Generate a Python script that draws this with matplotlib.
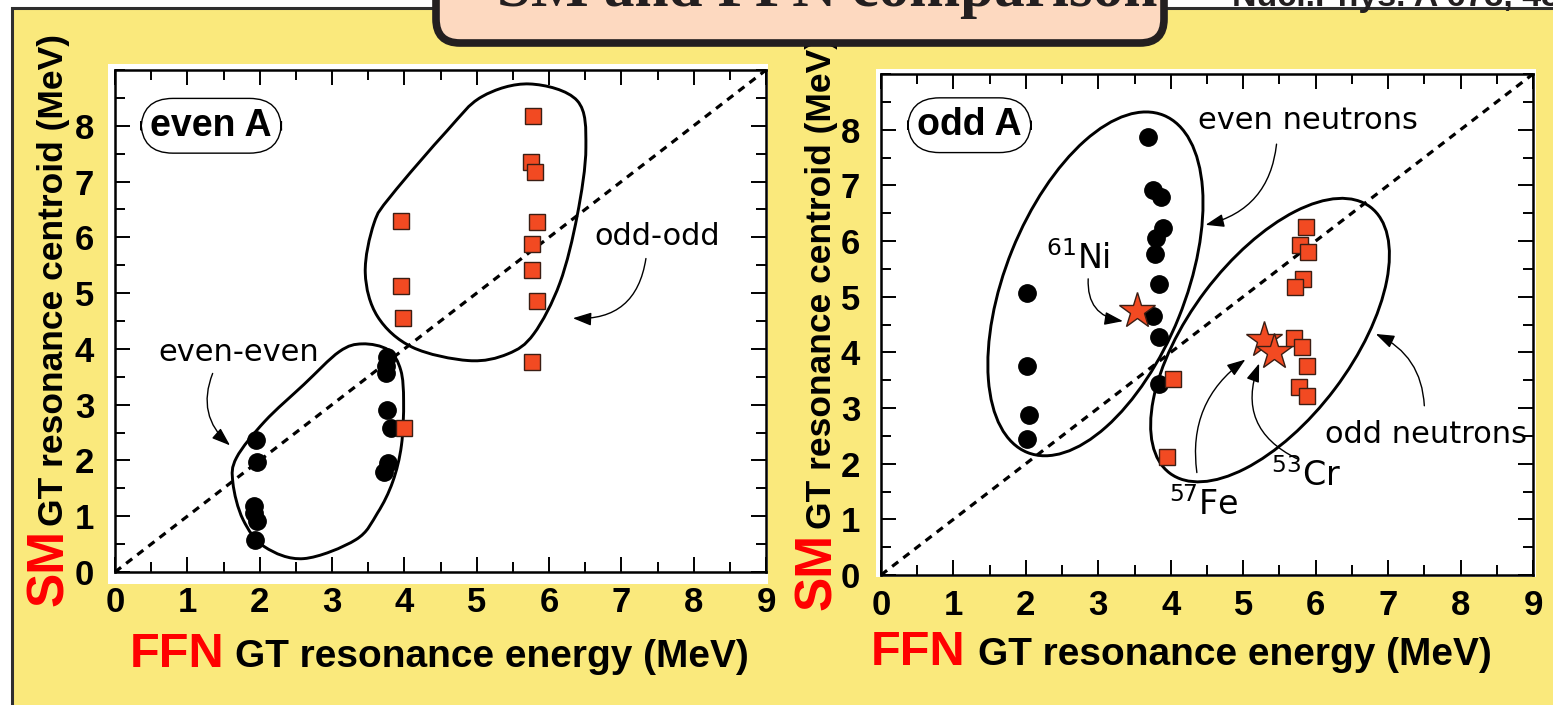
import numpy as np
import matplotlib
matplotlib.use("Agg")
import matplotlib.pyplot as plt
from matplotlib.patches import Rectangle, FancyBboxPatch, Ellipse, PathPatch
from matplotlib.path import Path
from matplotlib.transforms import Affine2D
from matplotlib.ticker import MultipleLocator

plt.rcParams["font.family"] = ["Liberation Sans", "DejaVu Sans"]
plt.rcParams["mathtext.fontset"] = "dejavusans"

# ---------------------------------------------------------------- data
# even A nuclei: FFN energy (x) vs shell-model centroid (y), MeV
even_even_x = [1.95, 1.96, 1.92, 1.92, 1.96, 1.94, 3.76, 3.75, 3.74, 3.76, 3.81, 3.78, 3.72]
even_even_y = [2.37, 1.97, 1.19, 1.06, 0.91, 0.58, 3.86, 3.70, 3.56, 2.91, 2.58, 1.95, 1.79]
odd_odd_x = [5.78, 5.75, 5.81, 3.95, 5.84, 5.77, 5.77, 3.95, 5.84, 3.98, 5.77, 4.00]
odd_odd_y = [8.17, 7.35, 7.18, 6.29, 6.27, 5.88, 5.41, 5.12, 4.86, 4.55, 3.76, 2.58]

# odd A nuclei
even_n_x = [3.69, 3.75, 3.87, 3.89, 3.80, 3.78, 3.84, 3.75, 3.84, 3.84, 2.01, 2.01, 2.04, 2.01]
even_n_y = [7.86, 6.91, 6.79, 6.23, 6.06, 5.77, 5.23, 4.65, 4.28, 3.44, 5.07, 3.75, 2.88, 2.45]
odd_n_x = [5.86, 5.78, 5.89, 5.83, 5.72, 5.70, 5.81, 5.88, 5.77, 5.88, 4.03, 3.95]
odd_n_y = [6.25, 5.93, 5.80, 5.32, 5.17, 4.25, 4.09, 3.75, 3.37, 3.22, 3.52, 2.12]

# highlighted nuclei (stars)
star_names = [r"$^{61}$Ni", r"$^{57}$Fe", r"$^{53}$Cr"]
star_x = [3.53, 5.28, 5.43]
star_y = [4.74, 4.23, 4.01]

x_ticks = list(range(0, 10))
y_ticks = list(range(0, 9))

# ---------------------------------------------------------------- style
W, H = 1553, 705
YELLOW = "#FAE97C"
PEACH = "#FDD9C0"
SQ_RED = "#F24A22"
EDGE_DARK = "#3B1E14"
INK = "#231F20"
HAND = "DejaVu Sans"

fig = plt.figure(figsize=(W / 100, H / 100), dpi=100)
fig.patch.set_facecolor("white")


def frac(x0, y_top, x1, y_bot):
    return [x0 / W, 1 - y_bot / H, (x1 - x0) / W, (y_bot - y_top) / H]


# background canvas in pixel units (origin top-left)
bg = fig.add_axes([0, 0, 1, 1], zorder=-1)
bg.set_xlim(0, W)
bg.set_ylim(H, 0)
bg.axis("off")
bg.add_patch(Rectangle((11.5, 8.0), W + 40, H + 40, fc=YELLOW, ec="#2E2E2E", lw=2.2))
bg.add_patch(Rectangle((108, 64), 660, 520, fc="white", ec="none"))
bg.add_patch(Rectangle((876, 69), 660, 508, fc="white", ec="none"))
bg.text(1232, 6, "Nucl.Phys. A 673, 481 (2000)", fontsize=24.5, fontweight="bold",
        color=INK, ha="left", va="baseline")

axL = fig.add_axes(frac(115, 70, 766, 572))
axR = fig.add_axes(frac(881, 74, 1533, 575))


def style_axes(ax):
    ax.set_xlim(0, 9)
    ax.set_ylim(0, 9)
    ax.set_facecolor("white")
    for sp in ax.spines.values():
        sp.set_linewidth(1.8)
        sp.set_color("black")
    ax.xaxis.set_major_locator(MultipleLocator(1))
    ax.xaxis.set_minor_locator(MultipleLocator(0.5))
    ax.yaxis.set_minor_locator(MultipleLocator(0.5))
    ax.set_xticks(x_ticks)
    ax.set_yticks(y_ticks)
    ax.tick_params(which="both", direction="in", top=True, right=True, width=1.4)
    ax.tick_params(which="major", length=11)
    ax.tick_params(which="minor", length=7)
    ax.tick_params(axis="x", pad=10, labelsize=25)
    ax.tick_params(axis="y", pad=15, labelsize=25)
    for lab in ax.get_xticklabels() + ax.get_yticklabels():
        lab.set_fontweight("bold")
    lims = ax.get_xlim()
    ax.plot(lims, lims, color="black", lw=2.3, ls=(0, (2.4, 2.0)), zorder=2)


def smooth_loop(ax, pts, lw=2.1):
    """Closed smooth outline through the given points (cubic Bezier segments)."""
    P = np.asarray(pts, dtype=float)
    m = len(P)
    verts = [P[0]]
    codes = [Path.MOVETO]
    for i in range(m):
        p0, p1, p2, p3 = P[i - 1], P[i], P[(i + 1) % m], P[(i + 2) % m]
        verts += [p1 + (p2 - p0) / 6.0, p2 - (p3 - p1) / 6.0, p2]
        codes += [Path.CURVE4] * 3
    ax.add_patch(PathPatch(Path(verts, codes), fill=False, lw=lw, ec="black", zorder=3))


def screen_ellipse(ax, center, a, b, angle, lw=2.1):
    """Ellipse whose tilt is measured on screen; a, b in x-axis units."""
    bb = ax.get_position()
    k = (bb.height * H / 9.0) / (bb.width * W / 9.0)
    tr = Affine2D().scale(1.0, 1.0 / k) + ax.transData
    ax.add_patch(Ellipse((center[0], center[1] * k), 2 * a, 2 * b, angle=angle,
                         transform=tr, fill=False, lw=lw, ec="black", zorder=3))


def pill(ax, x, y, s):
    ax.text(x, y, s, fontsize=27, fontweight="bold", ha="center", va="center", zorder=6,
            bbox=dict(boxstyle="round,pad=0.25,rounding_size=0.85", fc="white", ec="black", lw=1.0))


def note(ax, s, xy_text, size=22):
    ax.text(*xy_text, s, fontsize=size, family=HAND, ha="center", va="center", zorder=6)


def curl(ax, start, end, rad):
    ax.annotate("", xy=end, xytext=start, zorder=6,
                arrowprops=dict(arrowstyle="-|>,head_length=0.7,head_width=0.25",
                                connectionstyle=f"arc3,rad={rad}", lw=1.0, color="black",
                                shrinkA=0, shrinkB=0, mutation_scale=16))


circle_kw = dict(ls="none", marker="o", ms=12.5, color="black", zorder=4)
square_kw = dict(ls="none", marker="s", ms=12, mfc=SQ_RED, mec=EDGE_DARK, mew=1.0, zorder=5)
star_kw = dict(ls="none", marker="*", ms=27, mfc=SQ_RED, mec=EDGE_DARK, mew=1.0, zorder=4.5)

# ---------------------------------------------------------------- even A panel
style_axes(axL)
axL.plot(even_even_x, even_even_y, **circle_kw)
axL.plot(odd_odd_x, odd_odd_y, **square_kw)
smooth_loop(axL, [(3.42, 4.09), (3.78, 3.98), (3.95, 3.62), (3.99, 3.06), (3.96, 2.27),
                  (3.84, 1.62), (3.63, 1.06), (3.33, 0.58), (2.61, 0.24), (2.07, 0.45),
                  (1.77, 0.94), (1.63, 1.60), (1.68, 2.05), (2.07, 2.70), (2.61, 3.36),
                  (3.10, 3.95)])
smooth_loop(axL, [(5.73, 8.75), (6.39, 8.45), (6.51, 7.61), (6.39, 6.39), (6.15, 5.18),
                  (5.79, 4.27), (5.43, 3.91), (4.89, 3.79), (4.11, 4.03), (3.63, 4.58),
                  (3.46, 5.36), (3.58, 6.25), (3.82, 6.75), (4.59, 7.91), (5.07, 8.52)])
pill(axL, 1.33, 8.0, "even A")
note(axL, "odd-odd", (7.5, 6.02))
curl(axL, (7.34, 5.62), (6.33, 4.55), -0.45)
note(axL, "even-even", (1.71, 3.94))
curl(axL, (1.35, 3.56), (1.59, 2.27), 0.35)

# ---------------------------------------------------------------- odd A panel
style_axes(axR)
axR.plot(star_x, star_y, **star_kw)
axR.plot(even_n_x, even_n_y, **circle_kw)
axR.plot(odd_n_x, odd_n_y, **square_kw)
screen_ellipse(axR, (2.96, 5.23), 2.51, 1.24, 68)
screen_ellipse(axR, (5.37, 4.22), 2.30, 1.12, 53)
pill(axR, 1.22, 8.08, "odd A")
note(axR, "even neutrons", (5.89, 8.17))
curl(axR, (5.46, 7.74), (4.48, 6.29), -0.35)
note(axR, "odd neutrons", (7.52, 2.53))
curl(axR, (7.50, 3.04), (6.83, 4.33), 0.3)
note(axR, star_names[0], (2.72, 5.68), size=24)
curl(axR, (2.86, 5.32), (3.34, 4.56), 0.45)
note(axR, star_names[1], (4.46, 1.27), size=24)
curl(axR, (4.36, 1.84), (5.03, 3.87), -0.3)
note(axR, star_names[2], (5.87, 1.78), size=24)
curl(axR, (5.74, 2.09), (5.22, 3.80), -0.45)

# ---------------------------------------------------------------- axis titles
for fx, gx, by in [(130, 235, 667), (871, 978, 665)]:
    bg.text(fx, by, "FFN", color="red", fontsize=35, fontweight="bold", ha="left", va="baseline")
    bg.text(gx, by, "GT resonance energy (MeV)", color="black", fontsize=28,
            fontweight="bold", ha="left", va="baseline")
for bx, sy, gy in [(63, 606, 526), (831, 610, 529)]:
    bg.text(bx, sy, "SM", color="red", fontsize=37, fontweight="bold", rotation=90,
            rotation_mode="anchor", ha="left", va="baseline")
    bg.text(bx, gy, "GT resonance centroid (MeV)", color="black", fontsize=25.5,
            fontweight="bold", rotation=90, rotation_mode="anchor", ha="left", va="baseline")

# ---------------------------------------------------------------- title bubble
ov = fig.add_axes([0, 0, 1, 1], zorder=5)
ov.set_xlim(0, W)
ov.set_ylim(H, 0)
ov.axis("off")
ov.add_patch(FancyBboxPatch((436, -80), 728, 123, boxstyle="round,pad=0,rounding_size=24",
                            fc=PEACH, ec=INK, lw=5.5))
ov.text(497, 6, "SM and FFN comparison", family=["Liberation Serif", "DejaVu Serif"],
        fontsize=44, fontweight="bold", color=INK, ha="left", va="baseline")

fig.savefig("out.png", dpi=100, facecolor=fig.get_facecolor())
